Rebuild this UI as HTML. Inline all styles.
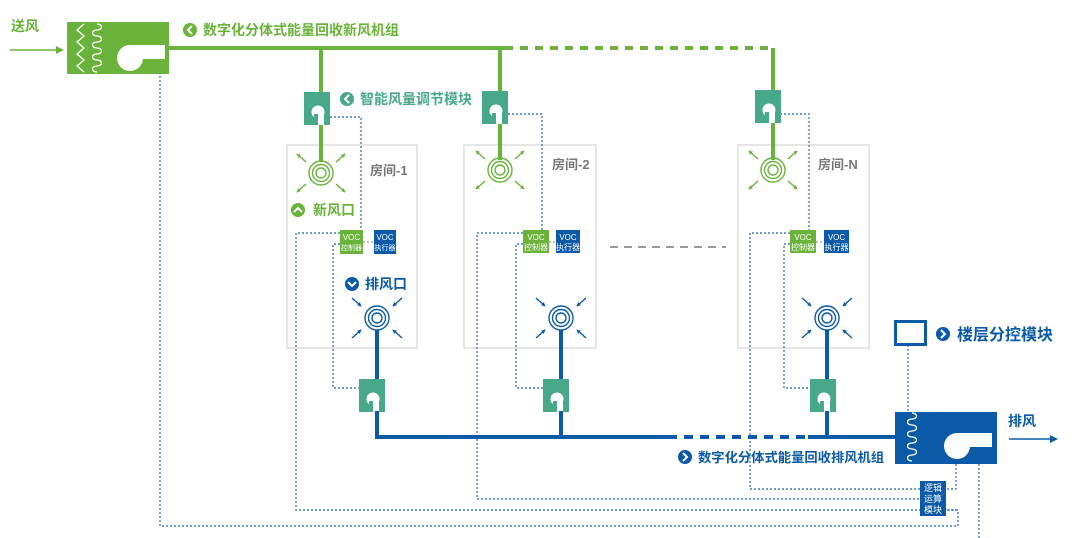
<!DOCTYPE html>
<html><head><meta charset="utf-8"><style>
html,body{margin:0;padding:0;background:#fff;}
svg{display:block;font-family:"Liberation Sans","Noto Sans CJK SC",sans-serif;font-weight:bold;}
</style></head><body>
<svg width="1080" height="538" viewBox="0 0 1080 538" xmlns="http://www.w3.org/2000/svg">
<defs>
<marker id="ag" viewBox="0 0 6 6" refX="5" refY="3" markerWidth="3" markerHeight="3" orient="auto"><path d="M0 0 L6 3 L0 6Z" fill="#6ab33a"/></marker>
<marker id="ab" viewBox="0 0 6 6" refX="5" refY="3" markerWidth="3" markerHeight="3" orient="auto"><path d="M0 0 L6 3 L0 6Z" fill="#0a5aa8"/></marker>
<g id="mod">
<rect x="0" y="0" width="26" height="33" fill="#47a98a"/>
<circle cx="14" cy="20" r="6.5" fill="#fff"/>
<rect x="14" y="20" width="6" height="13" fill="#fff"/>
<rect x="10" y="22" width="4" height="11" fill="#47a98a"/>
</g>
<g id="sup" stroke="#6ab33a" fill="none" stroke-width="1.4">
<circle r="12"/><circle r="8.5"/><circle r="5"/>
<path d="M-15 -11 L-24 -19" marker-end="url(#ag)"/>
<path d="M15 -11 L24 -19" marker-end="url(#ag)"/>
<path d="M-15 11 L-24 19" marker-end="url(#ag)"/>
<path d="M15 11 L24 19" marker-end="url(#ag)"/>
</g>
<g id="exh" stroke="#0a5aa8" fill="none" stroke-width="1.4">
<circle r="12"/><circle r="8.5"/><circle r="5"/>
<path d="M-25 -20 L-16 -12" marker-end="url(#ab)"/>
<path d="M25 -20 L16 -12" marker-end="url(#ab)"/>
<path d="M-25 20 L-16 12" marker-end="url(#ab)"/>
<path d="M25 20 L16 12" marker-end="url(#ab)"/>
</g>
</defs>

<g fill="none" stroke="#d4d4d4" stroke-width="1.2">
<rect x="287" y="145" width="130" height="203"/>
<rect x="464" y="145" width="132" height="203"/>
<rect x="738" y="145" width="131" height="203"/>
</g>
<g font-size="13" fill="#777">
<text x="370" y="175">房间-1</text>
<text x="552" y="169">房间-2</text>
<text x="818" y="169">房间-N</text>
</g>

<g fill="none" stroke="#3d7fc4" stroke-width="1.4" stroke-dasharray="2,2">
<path d="M160 76 V526 H958 V510 H946"/>
<path d="M330 117 H361 V230"/>
<path d="M508 114 H542 V230"/>
<path d="M780 114 H809 V230"/>
<path d="M340 233 H296 V510 H958"/>
<path d="M340 244 H333 V388 H359"/>
<path d="M523 233 H477 V499 H920"/>
<path d="M523 244 H516 V388 H543"/>
<path d="M790 233 H750 V489 H920"/>
<path d="M790 244 H784 V388 H810"/>
<path d="M908 345 V412"/>
<path d="M956 464 V489 H946"/>
<path d="M979 464 V538"/>
<path d="M363 242 H374 M549 242 H556 M816 242 H824" stroke="#aaa"/>
</g>
<path d="M610 247 H726" stroke="#999" stroke-width="2" stroke-dasharray="8,6"/>

<g stroke="#6ab33a" stroke-width="4" fill="none">
<path d="M169 48 H505"/>
<path d="M505 48 H773" stroke-dasharray="8,7"/>
<path d="M773 48 V90"/>
<path d="M321 48 V92 M321 124 V162"/>
<path d="M500 48 V91 M500 124 V160"/>
<path d="M773 123 V160"/>
</g>
<path d="M10 50 H56" stroke="#6ab33a" stroke-width="1.6"/>
<path d="M56 46 L64 50 L56 54Z" fill="#6ab33a"/>
<text x="11" y="31" font-size="14" fill="#6ab33a">送风</text>

<rect x="67" y="22" width="102" height="52" fill="#6ab33a"/>
<g stroke="#fff" stroke-width="1.3" fill="none">
<path d="M84 24 L77 30 L84 36 L77 42 L84 48 L77 54 L84 60 L77 66 L84 72"/>
<path d="M97 24 c6 0 6 6 0 6 c-6 0 -6 6 0 6 c6 0 6 6 0 6 c-6 0 -6 6 0 6 c6 0 6 6 0 6 c-6 0 -6 6 0 6 c6 0 6 6 0 6 c-6 0 -6 6 0 6"/>
</g>
<circle cx="130" cy="58" r="13" fill="#fff"/>
<rect x="130" y="45" width="35" height="14" fill="#fff"/>

<use href="#mod" x="304" y="92"/>
<use href="#mod" x="482" y="91"/>
<use href="#mod" x="755" y="90"/>
<use href="#mod" x="359" y="379"/>
<use href="#mod" x="543" y="379"/>
<use href="#mod" x="810" y="379"/>

<use href="#sup" x="321" y="173"/>
<use href="#sup" x="500" y="170"/>
<use href="#sup" x="773" y="170"/>

<g stroke="#0a5aa8" stroke-width="4" fill="none">
<path d="M377 330 V379 M377 411 V437 H668"/>
<path d="M561 330 V379 M561 411 V437"/>
<path d="M827 330 V379 M827 411 V437"/>
<path d="M668 437 H808" stroke-dasharray="9,7"/>
<path d="M808 437 H895"/>
</g>
<use href="#exh" x="377" y="318"/>
<use href="#exh" x="561" y="318"/>
<use href="#exh" x="827" y="318"/>

<g font-size="8" text-anchor="middle" fill="#fff" font-weight="normal">
<rect x="340" y="230" width="23" height="24" fill="#6ab33a"/><text x="351.5" y="240">VOC</text><text x="351.5" y="250" font-size="7">控制器</text>
<rect x="374" y="230" width="22" height="24" fill="#0a5aa8"/><text x="385" y="240">VOC</text><text x="385" y="250" font-size="7">执行器</text>
<rect x="523" y="230" width="26" height="23" fill="#6ab33a"/><text x="536" y="240">VOC</text><text x="536" y="250">控制器</text>
<rect x="556" y="230" width="24" height="23" fill="#0a5aa8"/><text x="568" y="240">VOC</text><text x="568" y="250">执行器</text>
<rect x="790" y="230" width="26" height="23" fill="#6ab33a"/><text x="803" y="240">VOC</text><text x="803" y="250">控制器</text>
<rect x="824" y="230" width="25" height="23" fill="#0a5aa8"/><text x="836.5" y="240">VOC</text><text x="836.5" y="250">执行器</text>
</g>

<circle cx="190" cy="30" r="7" fill="#6ab33a"/><path d="M192 26 L188 30 L192 34" stroke="#fff" stroke-width="2" fill="none"/>
<text x="203" y="35" font-size="14" fill="#6ab33a">数字化分体式能量回收新风机组</text>
<circle cx="347" cy="99" r="7" fill="#47a98a"/><path d="M349 95 L345 99 L349 103" stroke="#fff" stroke-width="2" fill="none"/>
<text x="360" y="104" font-size="14" fill="#47a98a">智能风量调节模块</text>
<circle cx="298" cy="210" r="7" fill="#6ab33a"/><path d="M294 212 L298 208 L302 212" stroke="#fff" stroke-width="2" fill="none"/>
<text x="313" y="215" font-size="14" fill="#6ab33a">新风口</text>
<circle cx="352" cy="284" r="7" fill="#0a5aa8"/><path d="M348 282 L352 286 L356 282" stroke="#fff" stroke-width="2" fill="none"/>
<text x="365" y="289" font-size="14" fill="#0a5aa8">排风口</text>
<circle cx="685" cy="457" r="7" fill="#0a5aa8"/><path d="M683 453 L687 457 L683 461" stroke="#fff" stroke-width="2" fill="none"/>
<text x="698" y="462" font-size="13.3" fill="#0a5aa8">数字化分体式能量回收排风机组</text>
<circle cx="943" cy="334" r="7" fill="#0a5aa8"/><path d="M941 330 L945 334 L941 338" stroke="#fff" stroke-width="2" fill="none"/>
<text x="957" y="340" font-size="16" fill="#0a5aa8">楼层分控模块</text>

<rect x="895.5" y="321.5" width="30" height="23" fill="#fff" stroke="#0a5aa8" stroke-width="3"/>

<rect x="895" y="412" width="102" height="52" fill="#0a5aa8"/>
<path d="M912 413 c6 0 6 6 0 6 c-6 0 -6 6 0 6 c6 0 6 6 0 6 c-6 0 -6 6 0 6 c6 0 6 6 0 6 c-6 0 -6 6 0 6 c6 0 6 6 0 6 c-6 0 -6 6 0 6" stroke="#fff" stroke-width="1.3" fill="none"/>
<circle cx="957" cy="446" r="13" fill="#fff"/>
<rect x="957" y="433" width="35" height="14" fill="#fff"/>
<text x="1008" y="426" font-size="14" fill="#0a5aa8">排风</text>
<path d="M1009 439 H1050" stroke="#0a5aa8" stroke-width="1.6"/>
<path d="M1050 435 L1058 439 L1050 443Z" fill="#0a5aa8"/>

<rect x="920" y="481" width="26" height="35" fill="#0a5aa8"/>
<g font-size="9" fill="#fff" font-weight="normal" text-anchor="middle">
<text x="933" y="491">逻辑</text><text x="933" y="502">运算</text><text x="933" y="513">模块</text>
</g>
</svg>
</body></html>
